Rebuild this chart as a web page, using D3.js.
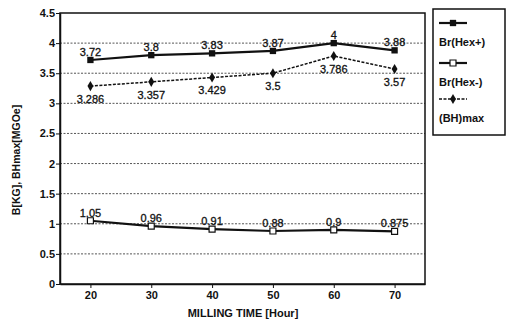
<!DOCTYPE html>
<html>
<head>
<meta charset="utf-8">
<script src="https://cdn.jsdelivr.net/npm/d3@7"></script>
<style>
  body { margin: 0; background: #fff; }
  svg { font-family: "Liberation Sans", Arial, sans-serif; }
  .tick text { font-size: 11px; font-weight: bold; fill: #111; }
  .lbl { font-size: 11px; fill: #111; stroke: #111; stroke-width: 0.3px; }
</style>
</head>
<body>
<script>
/*chart values*/
var millingTime = [20, 30, 40, 50, 60, 70];
var brHexPlus = [3.72, 3.8, 3.83, 3.87, 4, 3.88];
var brHexMinus = [1.05, 0.96, 0.91, 0.88, 0.9, 0.875];
var bhMax = [3.286, 3.357, 3.429, 3.5, 3.786, 3.57];
var yTicks = [0, 0.5, 1, 1.5, 2, 2.5, 3, 3.5, 4, 4.5];
var seriesNames = ["Br(Hex+)", "Br(Hex-)", "(BH)max"];

var svgWidth = 506, svgHeight = 322;
var margin = {top: 13, right: 81, bottom: 38, left: 60};
var width = svgWidth - margin.left - margin.right;
var height = svgHeight - margin.top - margin.bottom;

var svg = d3.select("body").append("svg")
	.attr("width", svgWidth)
	.attr("height", svgHeight);

var chartGroup = svg.append("g")
	.attr("transform", `translate(${margin.left}, ${margin.top})`);

var xScale = d3.scalePoint()
	.domain(millingTime)
	.range([0, width])
	.padding(0.5);

var yScale = d3.scaleLinear()
	.domain([0, 4.5])
	.range([height, 0]);

/*dotted grid lines*/
chartGroup.selectAll(".grid")
	.data(yTicks.filter(d => d > 0 && d < 4.5))
	.enter()
	.append("line")
	  .attr("x1", 0)
	  .attr("x2", width)
	  .attr("y1", d => yScale(d))
	  .attr("y2", d => yScale(d))
	  .attr("stroke", "#555")
	  .attr("stroke-width", 1)
	  .attr("stroke-dasharray", "2,1.5");

/*plot frame*/
chartGroup.append("rect")
	.attr("width", width)
	.attr("height", height)
	.attr("fill", "none")
	.attr("stroke", "#111")
	.attr("stroke-width", 1.5);

/*axes*/
var leftAxis = d3.axisLeft(yScale).tickValues(yTicks).tickSize(4).tickSizeOuter(0)
	.tickFormat(d => d);
var bottomAxis = d3.axisBottom(xScale).tickSize(4).tickSizeOuter(0);

var yAxis = chartGroup.append("g").call(leftAxis);
var xAxis = chartGroup.append("g")
	.attr("transform", `translate(0, ${height})`)
	.call(bottomAxis);
[yAxis, xAxis].forEach(function (ax) {
	ax.select(".domain").attr("stroke", "#111").attr("stroke-width", 1.5);
	ax.selectAll(".tick line").attr("stroke", "#111");
});
yAxis.selectAll(".tick text").attr("x", -5);
xAxis.selectAll(".tick text").attr("y", 7);

/*axis titles*/
svg.append("text")
	.attr("x", 243)
	.attr("y", 317)
	.attr("text-anchor", "middle")
	.attr("font-size", "11px")
	.attr("font-weight", "bold")
	.attr("fill", "#111")
	.text("MILLING TIME [Hour]");

svg.append("text")
	.attr("transform", "translate(20, 160) rotate(-90)")
	.attr("text-anchor", "middle")
	.attr("font-size", "10.5px")
	.attr("font-weight", "bold")
	.attr("fill", "#111")
	.text("B[KG], BHmax[MGOe]");

/*series lines*/
function drawLine(values, width, dash) {
	var line = d3.line()
		.x((d, i) => xScale(millingTime[i]))
		.y(d => yScale(d));
	chartGroup.append("path")
		.datum(values)
		.attr("d", line)
		.attr("fill", "none")
		.attr("stroke", "#111")
		.attr("stroke-width", width)
		.attr("stroke-dasharray", dash);
}
drawLine(brHexPlus, 2.2, null);
drawLine(brHexMinus, 2.2, null);
drawLine(bhMax, 1.5, "3,1.5");

/*markers*/
var sq = d3.symbol().type(d3.symbolSquare);
var dm = d3.symbol().type(d3.symbolDiamond);

chartGroup.selectAll(".mPlus")
	.data(brHexPlus).enter().append("path")
	  .attr("d", sq.size(40))
	  .attr("transform", (d, i) => `translate(${xScale(millingTime[i])}, ${yScale(d)})`)
	  .attr("fill", "#111");

chartGroup.selectAll(".mMinus")
	.data(brHexMinus).enter().append("path")
	  .attr("d", sq.size(36))
	  .attr("transform", (d, i) => `translate(${xScale(millingTime[i])}, ${yScale(d)})`)
	  .attr("fill", "#fff")
	  .attr("stroke", "#111")
	  .attr("stroke-width", 1.2);

chartGroup.selectAll(".mBh")
	.data(bhMax).enter().append("path")
	  .attr("d", dm.size(30))
	  .attr("transform", (d, i) => `translate(${xScale(millingTime[i])}, ${yScale(d)})`)
	  .attr("fill", "#111");

/*value labels*/
function drawLabels(values, dy) {
	chartGroup.selectAll(null)
		.data(values).enter().append("text")
		  .attr("class", "lbl")
		  .attr("x", (d, i) => xScale(millingTime[i]))
		  .attr("y", d => yScale(d) + dy)
		  .attr("text-anchor", "middle")
		  .text(d => d);
}
drawLabels(brHexPlus, -4);
drawLabels(brHexMinus, -4);
drawLabels(bhMax, 17);

/*legend*/
var legend = svg.append("g");
legend.append("rect")
	.attr("x", 433)
	.attr("y", 9)
	.attr("width", 72)
	.attr("height", 126)
	.attr("fill", "none")
	.attr("stroke", "#111")
	.attr("stroke-width", 1.5);

var legendY = [23, 63, 99];
seriesNames.forEach(function (name, i) {
	var y = legendY[i];
	legend.append("line")
		.attr("x1", 439).attr("x2", 467)
		.attr("y1", y).attr("y2", y)
		.attr("stroke", "#111")
		.attr("stroke-width", i == 2 ? 1.5 : 2.2)
		.attr("stroke-dasharray", i == 2 ? "3,1.5" : null);
	var m = legend.append("path")
		.attr("transform", `translate(453, ${y})`);
	if (i == 0) m.attr("d", sq.size(40)).attr("fill", "#111");
	if (i == 1) m.attr("d", sq.size(36)).attr("fill", "#fff").attr("stroke", "#111").attr("stroke-width", 1.2);
	if (i == 2) m.attr("d", dm.size(30)).attr("fill", "#111");
	legend.append("text")
		.attr("x", 439)
		.attr("y", y + 23)
		.attr("font-size", "11px")
		.attr("font-weight", "bold")
		.attr("fill", "#111")
		.text(name);
});
</script>
</body>
</html>
